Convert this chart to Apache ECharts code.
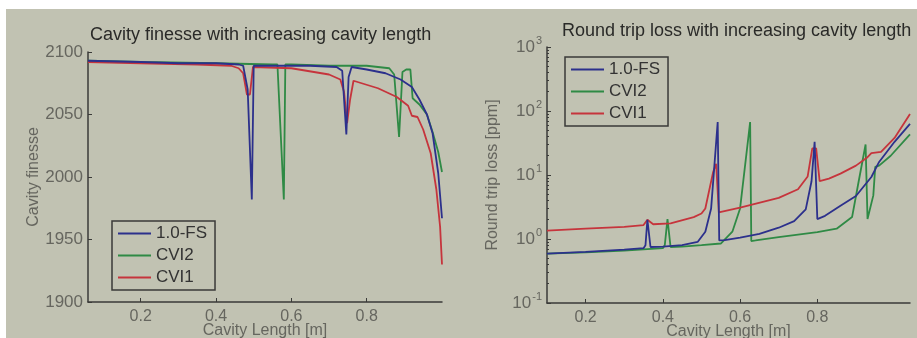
<!DOCTYPE html>
<html>
<head>
<meta charset="utf-8">
<script src="https://cdn.jsdelivr.net/npm/echarts@6/dist/echarts.min.js"></script>
<style>
  html, body { margin: 0; padding: 0; background: #fff; }
  #chart { width: 917px; height: 338px; }
</style>
</head>
<body>
<div id="chart"></div>
<script>
// series names, shared by both panels
const seriesNames = ["1.0-FS", "CVI2", "CVI1"]
const seriesColors = ["#2c308c", "#2f8a45", "#c6343c"]

// left panel: cavity finesse vs cavity length [m]
const finFsX = [0.06, 0.2, 0.3, 0.4, 0.46, 0.472, 0.484, 0.495, 0.5, 0.55, 0.65, 0.72, 0.735, 0.746, 0.752, 0.76, 0.8, 0.85, 0.89, 0.92, 0.94, 0.96, 0.975, 0.99, 1.0]
const finFsY = [2093, 2092, 2091, 2091, 2090, 2089, 2070, 1982, 2089, 2089, 2089, 2088, 2085, 2034, 2080, 2088, 2086, 2083, 2078, 2072, 2062, 2050, 2035, 2003, 1967]

const finCvi2X = [0.06, 0.2, 0.4, 0.55, 0.563, 0.58, 0.584, 0.6, 0.7, 0.8, 0.86, 0.873, 0.886, 0.895, 0.905, 0.916, 0.922, 0.94, 0.96, 0.975, 0.99, 1.0]
const finCvi2Y = [2093, 2092, 2091, 2090, 2090, 1982, 2090, 2090, 2089, 2089, 2087, 2082, 2032, 2084, 2086, 2086, 2063, 2058, 2050, 2036, 2020, 2004]

const finCvi1X = [0.06, 0.2, 0.35, 0.44, 0.46, 0.472, 0.482, 0.49, 0.498, 0.6, 0.7, 0.73, 0.74, 0.748, 0.756, 0.765, 0.83, 0.88, 0.91, 0.92, 0.935, 0.95, 0.97, 0.985, 0.995, 1.0]
const finCvi1Y = [2092, 2091, 2090, 2089, 2087, 2083, 2066, 2066, 2088, 2087, 2082, 2078, 2068, 2043, 2062, 2077, 2071, 2064, 2057, 2049, 2048, 2038, 2019, 1990, 1960, 1930]

// right panel: round trip loss [ppm] vs cavity length [m]
const lossFsX = [0.1, 0.2, 0.3, 0.35, 0.355, 0.36, 0.368, 0.4, 0.45, 0.49, 0.51, 0.525, 0.542, 0.546, 0.56, 0.6, 0.65, 0.7, 0.74, 0.77, 0.785, 0.793, 0.8, 0.82, 0.86, 0.9, 0.94, 0.96, 1.0, 1.04]
const lossFsY = [0.59, 0.63, 0.68, 0.72, 0.8, 2.0, 0.75, 0.76, 0.8, 0.9, 1.3, 3, 67, 0.95, 0.96, 1.05, 1.2, 1.5, 1.9, 2.9, 8, 33, 2.05, 2.3, 3.3, 4.7, 9.3, 16, 33, 63]

const lossCvi2X = [0.1, 0.2, 0.3, 0.4, 0.405, 0.412, 0.42, 0.45, 0.5, 0.55, 0.58, 0.6, 0.626, 0.629, 0.64, 0.7, 0.8, 0.85, 0.89, 0.905, 0.925, 0.93, 0.935, 0.945, 0.95, 0.96, 0.99, 1.04]
const lossCvi2Y = [0.59, 0.62, 0.66, 0.72, 0.8, 2.05, 0.75, 0.76, 0.8, 0.85, 1.3, 3, 67, 0.93, 0.95, 1.07, 1.28, 1.45, 2.2, 6.8, 30, 2.05, 2.0, 4.8, 13.4, 14, 20, 43]

const lossCvi1X = [0.1, 0.2, 0.3, 0.35, 0.36, 0.375, 0.42, 0.48, 0.5, 0.51, 0.53, 0.538, 0.545, 0.6, 0.7, 0.75, 0.775, 0.787, 0.797, 0.806, 0.83, 0.86, 0.9, 0.93, 0.94, 0.965, 1.0, 1.04]
const lossCvi1Y = [1.35, 1.45, 1.55, 1.65, 2.0, 1.7, 1.75, 2.2, 2.5, 3.0, 11, 15, 2.6, 3.1, 4.4, 6, 9.5, 26, 26, 8, 8.8, 10.5, 14, 19, 22, 23, 38, 90]

// tick labels
const lengthTicks = [0.2, 0.4, 0.6, 0.8]

const zip = (xs, ys) => xs.map((x, i) => [x, ys[i]])

const finData = [zip(finFsX, finFsY), zip(finCvi2X, finCvi2Y), zip(finCvi1X, finCvi1Y)]
const lossData = [zip(lossFsX, lossFsY), zip(lossCvi2X, lossCvi2Y), zip(lossCvi1X, lossCvi1Y)]

const chart = echarts.init(document.getElementById("chart"))

const font = "Liberation Sans, Arial, sans-serif"
const labelColor = "#66665f"
const axisColor = "#3a3a38"
const bgColor = "#c1c2b2"

const lengthAxis = (gridIndex, min, max) => ({
  type: "value",
  gridIndex,
  min,
  max,
  name: "Cavity Length [m]",
  nameLocation: "middle",
  nameGap: 29,
  nameMoveOverlap: false,
  nameTextStyle: { color: labelColor, fontSize: 16, fontFamily: font, verticalAlign: "middle" },
  axisLine: { lineStyle: { color: axisColor, width: 1.5 } },
  axisTick: { inside: true, length: 4, customValues: lengthTicks, lineStyle: { color: axisColor } },
  axisLabel: { customValues: lengthTicks, color: labelColor, fontSize: 16, fontFamily: font, margin: 7 },
  splitLine: { show: false },
})

const legendBox = (left, top) => ({
  left,
  top,
  orient: "vertical",
  data: seriesNames,
  icon: "rect",
  itemWidth: 33,
  itemHeight: 2,
  itemGap: 5,
  padding: [4, 8, 4, 6],
  borderColor: "#3a3a38",
  borderWidth: 1.5,
  borderRadius: 0,
  backgroundColor: bgColor,
  textStyle: { color: "#333", fontSize: 17, fontFamily: font, lineHeight: 16 },
})

const makeSeries = (data, xAxisIndex) =>
  data.map((d, i) => ({
    name: seriesNames[i],
    type: "line",
    xAxisIndex,
    yAxisIndex: xAxisIndex,
    data: d,
    showSymbol: false,
    symbol: "none",
    lineStyle: { width: 1.8, color: seriesColors[i] },
    itemStyle: { color: seriesColors[i] },
    z: 3 + (i === 0 ? 1 : 0),
  }))

const option = {
  animation: false,
  backgroundColor: "#ffffff",
  color: seriesColors,
  graphic: [
    {
      type: "rect",
      z: -10,
      silent: true,
      shape: { x: 6, y: 9, width: 911, height: 329 },
      style: { fill: bgColor },
    },
  ],
  title: [
    {
      text: "Cavity finesse with increasing cavity length",
      left: 90,
      top: 26,
      padding: 0,
      textStyle: { color: "#2a2a28", fontSize: 18, fontWeight: "normal", fontFamily: font },
    },
    {
      text: "Round trip loss with increasing cavity length",
      left: 562,
      top: 22,
      padding: 0,
      textStyle: { color: "#2a2a28", fontSize: 18, fontWeight: "normal", fontFamily: font },
    },
  ],
  legend: [legendBox(112, 221), legendBox(565, 57)],
  grid: [
    { left: 88, top: 52, width: 354, height: 250, outerBoundsMode: "none" },
    { left: 547, top: 47, width: 363, height: 256, outerBoundsMode: "none" },
  ],
  xAxis: [lengthAxis(0, 0.06, 1.0), lengthAxis(1, 0.1, 1.04)],
  yAxis: [
    {
      type: "value",
      gridIndex: 0,
      min: 1900,
      max: 2100,
      interval: 50,
      name: "Cavity finesse",
      nameLocation: "middle",
      nameGap: 46,
      nameTextStyle: { color: labelColor, fontSize: 16, fontFamily: font },
      axisLine: { show: true, lineStyle: { color: axisColor, width: 1.5 } },
      axisTick: { show: true, inside: true, length: 4, lineStyle: { color: axisColor } },
      axisLabel: { color: labelColor, fontSize: 17, fontFamily: font, margin: 5, formatter: (v) => String(v) },
      splitLine: { show: false },
    },
    {
      type: "log",
      logBase: 10,
      gridIndex: 1,
      min: 0.1,
      max: 1000,
      name: "Round trip loss [ppm]",
      nameLocation: "middle",
      nameGap: 46,
      nameTextStyle: { color: labelColor, fontSize: 16, fontFamily: font },
      axisLine: { show: true, lineStyle: { color: axisColor, width: 1.5 } },
      axisTick: { show: true, inside: true, length: 4, lineStyle: { color: axisColor } },
      minorTick: { show: true, splitNumber: 9, length: 2, lineStyle: { color: axisColor } },
      axisLabel: {
        margin: 5,
        formatter: (v) => "{b|10}{s|" + Math.round(Math.log10(v)) + "}",
        rich: {
          b: { color: labelColor, fontSize: 17, fontFamily: font },
          s: { color: labelColor, fontSize: 11, fontFamily: font, padding: [0, 0, 13, 1] },
        },
      },
      splitLine: { show: false },
    },
  ],
  series: [...makeSeries(finData, 0), ...makeSeries(lossData, 1)],
}

chart.setOption(option)
</script>
</body>
</html>
